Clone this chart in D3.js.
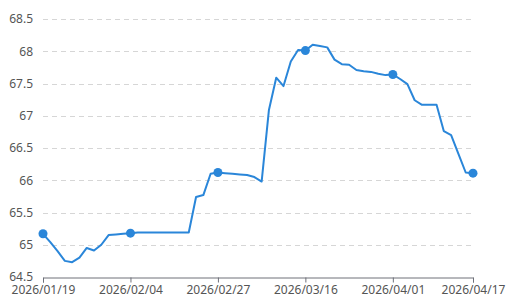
<!DOCTYPE html>
<html>
<head>
<meta charset="utf-8">
<script src="https://cdn.jsdelivr.net/npm/d3@7"></script>
<style>
  body { margin: 0; background: #fff; }
  svg { display: block; }
</style>
</head>
<body>
<script>
// trading days (category axis)
var dates = [
  "2026/01/19","2026/01/20","2026/01/21","2026/01/22","2026/01/23",
  "2026/01/26","2026/01/27","2026/01/28","2026/01/29","2026/01/30",
  "2026/02/02","2026/02/03","2026/02/04","2026/02/05","2026/02/06",
  "2026/02/09","2026/02/10","2026/02/11","2026/02/12","2026/02/13",
  "2026/02/14","2026/02/24","2026/02/25","2026/02/26","2026/02/27",
  "2026/02/28","2026/03/02","2026/03/03","2026/03/04","2026/03/05",
  "2026/03/06","2026/03/09","2026/03/10","2026/03/11","2026/03/12",
  "2026/03/13","2026/03/16","2026/03/17","2026/03/18","2026/03/19",
  "2026/03/20","2026/03/23","2026/03/24","2026/03/25","2026/03/26",
  "2026/03/27","2026/03/30","2026/03/31","2026/04/01","2026/04/02",
  "2026/04/03","2026/04/07","2026/04/08","2026/04/09","2026/04/10",
  "2026/04/13","2026/04/14","2026/04/15","2026/04/16","2026/04/17"
];
var values = [
  65.17, 65.04, 64.90, 64.75, 64.73, 64.80, 64.95, 64.91, 65.00, 65.15,
  65.16, 65.17, 65.18, 65.19, 65.19, 65.19, 65.19, 65.19, 65.19, 65.19,
  65.19, 65.74, 65.77, 66.10, 66.12, 66.11, 66.10, 66.09, 66.08, 66.05,
  65.98, 67.09, 67.59, 67.46, 67.84, 68.02, 68.01, 68.10, 68.08, 68.06,
  67.87, 67.80, 67.79, 67.71, 67.69, 67.68, 67.65, 67.63, 67.64, 67.57,
  67.49, 67.24, 67.17, 67.17, 67.17, 66.76, 66.70, 66.41, 66.12, 66.11
];
var xTickLabels = ["2026/01/19","2026/02/04","2026/02/27","2026/03/16","2026/04/01","2026/04/17"];
var yTicks = [64.5, 65, 65.5, 66, 66.5, 67, 67.5, 68, 68.5];

var width = 514, height = 303;
var margin = {top: 19, right: 41, bottom: 26, left: 43};
var lineColor = "#2a86d9";
var font = "'Noto Sans', 'Open Sans', sans-serif";

var svg = d3.select("body").append("svg")
  .attr("width", width)
  .attr("height", height);

var x = d3.scalePoint()
  .domain(dates)
  .range([margin.left, width - margin.right]);

var y = d3.scaleLinear()
  .domain([64.5, 68.5])
  .range([height - margin.bottom, margin.top]);

// grid lines
svg.append("g")
  .selectAll("line")
  .data(yTicks.filter(function(d) { return d > 64.5; }))
  .join("line")
  .attr("x1", margin.left)
  .attr("x2", width - margin.right)
  .attr("y1", function(d) { return Math.round(y(d)) + 0.5; })
  .attr("y2", function(d) { return Math.round(y(d)) + 0.5; })
  .attr("stroke", "#d6d6d6")
  .attr("stroke-dasharray", "5,4");

// y axis labels
var yAxis = svg.append("g")
  .attr("transform", "translate(" + margin.left + ",0)")
  .call(d3.axisLeft(y).tickValues(yTicks).tickSize(0).tickPadding(10).tickFormat(d3.format("")))
  .attr("font-family", font)
  .attr("font-size", 12);
yAxis.select(".domain").remove();
yAxis.selectAll("text").attr("fill", "#555");

// x axis
var xAxis = svg.append("g")
  .attr("transform", "translate(0," + (Math.round(y(64.5)) + 0.5) + ")")
  .call(d3.axisBottom(x).tickValues(xTickLabels).tickSize(5).tickPadding(3))
  .attr("font-family", font)
  .attr("font-size", 12);
xAxis.select(".domain").attr("stroke", "#6e7079");
xAxis.selectAll(".tick line").attr("stroke", "#6e7079");
xAxis.selectAll("text").attr("fill", "#555");

// line
var line = d3.line()
  .x(function(d, i) { return x(dates[i]); })
  .y(function(d) { return y(d); });

svg.append("path")
  .datum(values)
  .attr("fill", "none")
  .attr("stroke", lineColor)
  .attr("stroke-width", 2)
  .attr("stroke-linejoin", "round")
  .attr("d", line);

// markers at labelled dates
svg.append("g")
  .selectAll("circle")
  .data(xTickLabels)
  .join("circle")
  .attr("cx", function(d) { return x(d); })
  .attr("cy", function(d) { return y(values[dates.indexOf(d)]); })
  .attr("r", 4.5)
  .attr("fill", lineColor);
</script>
</body>
</html>
